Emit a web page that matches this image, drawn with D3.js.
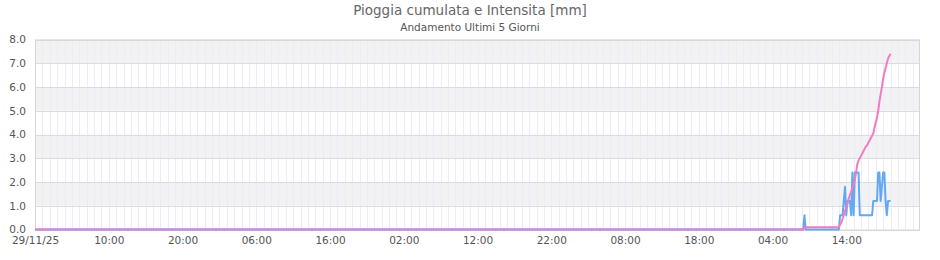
<!DOCTYPE html>
<html><head><meta charset="utf-8">
<script src="https://cdn.jsdelivr.net/npm/d3@7"></script>
<style>
html,body{margin:0;padding:0;background:#fff;}
svg{display:block;font-family:"DejaVu Sans",sans-serif;}
</style></head>
<body><svg id="c" width="940" height="260"></svg>
<script>
// ---- data ----
const titleText = "Pioggia cumulata e Intensita [mm]";
const subtitleText = "Andamento Ultimi 5 Giorni";
const rangeStart = "2025-11-29 00:00";
const rangeEnd = "2025-12-04 00:00";
const yTicks = [0,1,2,3,4,5,6,7,8];
const xTickHours = [0,10,20,30,40,50,60,70,80,90,100,110];
// samples every 10 minutes from 03/12 08:00 to 03/12 20:00 (before: all zero from range start)
const seriesStart = "2025-12-03 08:00";
const seriesEnd = "2025-12-03 20:00";
const intensita = [
  0,0,0.6,
  0,0,0,0,0,0,0,0,0,0,0,0,0,0,0,0,0,0,0,0,0,0,0,0,0,0,0,0,
  0.6,0.6,0.6,1.2,1.8,
  0.6,1.2,1.2,1.2,0.6,2.4,
  0.6,2.4,2.4,2.4,2.4,0.6,
  0.6,0.6,0.6,0.6,0.6,0.6,
  0.6,0.6,0.6,0.6,1.2,1.2,
  1.2,1.2,2.4,2.4,1.2,1.8,
  2.4,2.4,1.2,0.6,1.2,1.2,
  1.2
];
const cumulata = [
  0,0,0.1,
  0.1,0.1,0.1,0.1,0.1,0.1,0.1,0.1,0.1,0.1,0.1,0.1,0.1,0.1,0.1,0.1,0.1,0.1,0.1,0.1,0.1,0.1,0.1,0.1,0.1,0.1,0.1,0.1,
  0.2,0.3,0.45,0.6,0.8,
  0.95,1.1,1.3,1.45,1.6,1.75,
  1.9,2.1,2.4,2.75,2.9,3.0,
  3.1,3.2,3.3,3.4,3.5,3.55,
  3.65,3.75,3.85,3.95,4.05,4.3,
  4.5,4.7,5.0,5.4,5.7,6.0,
  6.35,6.6,6.8,7.0,7.2,7.3,
  7.4
];

// ---- build ----
const parse = d3.timeParse("%Y-%m-%d %H:%M");
const t0 = parse(rangeStart), t1 = parse(rangeEnd);
const sTimes = d3.timeMinute.every(10).range(parse(seriesStart), d3.timeMinute.offset(parse(seriesEnd), 1));
const blueData = [{t:t0, v:0}].concat(sTimes.map((t,i)=>({t, v:intensita[i]})));
const pinkData = [{t:t0, v:0}].concat(sTimes.map((t,i)=>({t, v:cumulata[i]})));

const svg = d3.select("#c");
const L = 35, R = 920, T = 39.5, B = 229.5;
const x = d3.scaleTime().domain([t0, t1]).range([L, R]);
const y = d3.scaleLinear().domain([0, 8]).range([B, T]);

// bands
const bands = svg.append("g");
for (let i = 0; i < yTicks.length - 1; i++) {
  const lo = yTicks[i], hi = yTicks[i+1];
  bands.append("rect").attr("x", L).attr("y", y(hi)).attr("width", R - L).attr("height", y(lo) - y(hi))
    .attr("fill", i % 2 === 1 ? "#f2f2f2" : "#ffffff");
}
// vertical hourly grid
const hours = d3.timeHour.range(d3.timeHour.offset(t0, 1), t1);
svg.append("g").selectAll("line").data(hours).join("line")
  .attr("x1", d => Math.round(x(d)) + 0.5).attr("x2", d => Math.round(x(d)) + 0.5)
  .attr("y1", T).attr("y2", B)
  .attr("stroke", "#eceafb").attr("stroke-width", 1);
// horizontal grid
svg.append("g").selectAll("line").data(yTicks).join("line")
  .attr("x1", L).attr("x2", R)
  .attr("y1", d => Math.round(y(d)) + 0.5).attr("y2", d => Math.round(y(d)) + 0.5)
  .attr("stroke", "#dcdcdc").attr("stroke-width", 1);
// border
svg.append("rect").attr("x", L + 0.5).attr("y", T + 0.5).attr("width", R - L - 1).attr("height", B - T)
  .attr("fill", "none").attr("stroke", "#d6d6d6");

// y axis labels
const yAxis = d3.axisLeft(y).tickValues(yTicks).tickFormat(d3.format(".1f")).tickSize(0).tickPadding(9);
const gy = svg.append("g").attr("transform", `translate(${L},0)`).call(yAxis);
gy.select(".domain").remove();
gy.selectAll("text").attr("fill", "#555").style("font-size", "10.5px").style("font-family", "DejaVu Sans");

// x axis labels
const xTickVals = xTickHours.map(h => d3.timeHour.offset(t0, h));
const fmtDate = d3.timeFormat("%d/%m/%y"), fmtHour = d3.timeFormat("%H:%M");
const xAxis = d3.axisBottom(x).tickValues(xTickVals)
  .tickFormat((d,i) => i === 0 ? fmtDate(d) : fmtHour(d)).tickSize(0).tickPadding(7);
const gx = svg.append("g").attr("transform", `translate(0,${B})`).call(xAxis);
gx.select(".domain").remove();
gx.selectAll("text").attr("fill", "#555").style("font-size", "10.5px").style("font-family", "DejaVu Sans");

// lines
const line = d3.line().x(d => x(d.t)).y(d => y(d.v));
svg.append("path").datum(blueData).attr("d", line)
  .attr("fill", "none").attr("stroke", "#62a8f2").attr("stroke-width", 2).attr("stroke-linejoin", "round");
svg.append("path").datum(pinkData).attr("d", line)
  .attr("fill", "none").attr("stroke", "#f07cc2").attr("stroke-width", 2).attr("stroke-linejoin", "round");

// titles
svg.append("text").attr("x", 470).attr("y", 15).attr("text-anchor", "middle")
  .attr("fill", "#666").style("font-size", "13.5px").style("font-family", "DejaVu Sans")
  .text(titleText);
svg.append("text").attr("x", 470).attr("y", 31).attr("text-anchor", "middle")
  .attr("fill", "#555").style("font-size", "10.5px").style("font-family", "DejaVu Sans")
  .text(subtitleText);
</script></body></html>
